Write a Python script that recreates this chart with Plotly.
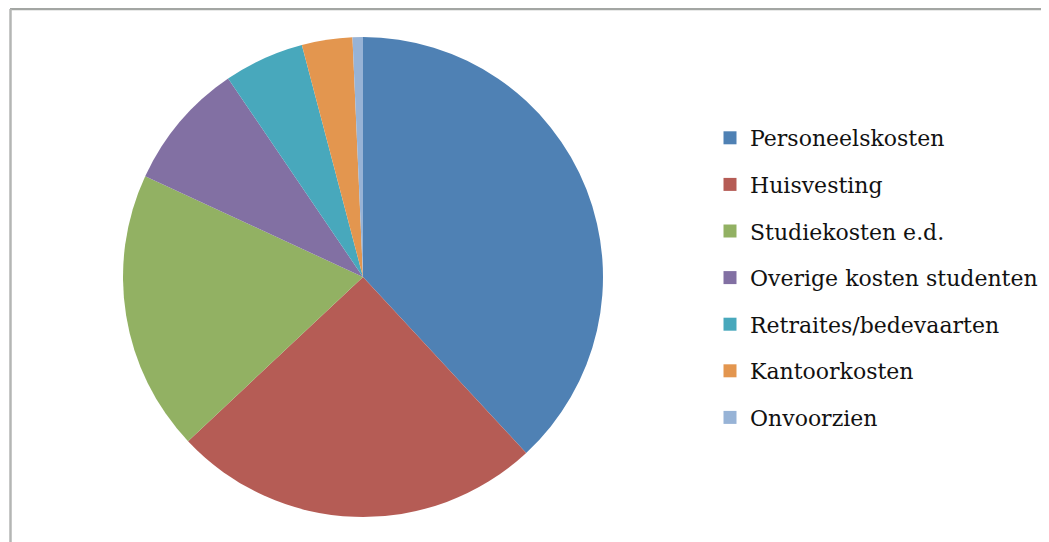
import plotly.graph_objects as go

categories = ["Personeelskosten", "Huisvesting", "Studiekosten e.d.",
              "Overige kosten studenten", "Retraites/bedevaarten",
              "Kantoorkosten", "Onvoorzien"]
values = [38.1, 24.9, 18.9, 8.6, 5.4, 3.4, 0.7]
colors = ["#4F81B4", "#B55C55", "#92B163", "#8270A3", "#48A8BC", "#E3964F", "#97B3D6"]

# page body has an 8px margin, so the figure is 8px smaller than the window
W, H = 1041, 534
fig = go.Figure()

fig.add_trace(go.Pie(
    labels=categories, values=values, sort=False, direction="clockwise",
    rotation=0, textinfo="none", hoverinfo="label+percent",
    marker=dict(colors=colors, line=dict(width=0)),
    domain=dict(x=[115 / W, 595 / W], y=[1 - 509 / H, 1 - 29 / H]),
    showlegend=False,
))

# legend entries (one group per category so spacing can be controlled)
for i, (lab, col) in enumerate(zip(categories, colors)):
    fig.add_trace(go.Scatter(
        x=[None], y=[None], mode="markers", name=lab,
        marker=dict(symbol="square", size=13, color=col),
        legendgroup=f"g{i}", showlegend=True,
    ))

fig.update_layout(
    width=W, height=H,
    margin=dict(l=0, r=0, t=0, b=0),
    paper_bgcolor="white", plot_bgcolor="white",
    xaxis=dict(visible=False), yaxis=dict(visible=False),
    legend=dict(
        x=702 / W, y=1 - 109 / H, xanchor="left", yanchor="top",
        font=dict(family="DejaVu Serif", size=22, color="#111111"),
        tracegroupgap=15, itemsizing="trace", bgcolor="rgba(0,0,0,0)",
    ),
    shapes=[
        dict(type="line", xref="paper", yref="paper",
             x0=2 / W, x1=1.0, y0=1 - 1 / H, y1=1 - 1 / H,
             line=dict(color="#A3A6A3", width=2.5)),
        dict(type="line", xref="paper", yref="paper",
             x0=2.5 / W, x1=2.5 / W, y0=1 - 1 / H, y1=0,
             line=dict(color="#B4B6B4", width=2.5)),
    ],
)

fig.write_html("out.html")
